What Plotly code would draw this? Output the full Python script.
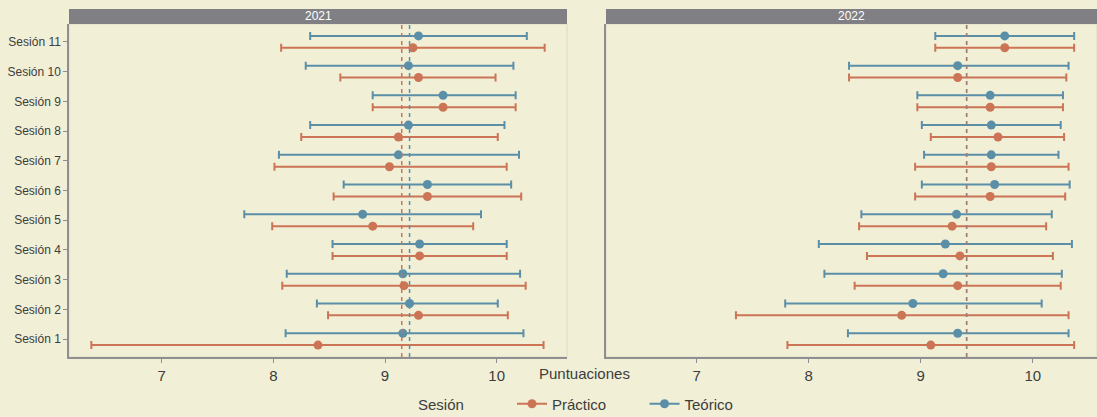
import plotly.graph_objects as go

# Sessions and per-year interval estimates (mean with lower/upper bounds)
sesiones = [f"Sesión {i}" for i in range(1, 12)]

# 2021
p21_mean = [8.40, 9.30, 9.17, 9.31, 8.89, 9.38, 9.04, 9.12, 9.52, 9.30, 9.25]
p21_low = [6.37, 8.49, 8.08, 8.53, 7.99, 8.54, 8.01, 8.25, 8.89, 8.60, 8.07]
p21_high = [10.42, 10.10, 10.26, 10.09, 9.79, 10.22, 10.09, 10.01, 10.17, 9.99, 10.43]
t21_mean = [9.16, 9.22, 9.16, 9.31, 8.80, 9.38, 9.12, 9.21, 9.52, 9.21, 9.30]
t21_low = [8.11, 8.39, 8.12, 8.53, 7.74, 8.63, 8.05, 8.33, 8.89, 8.29, 8.33]
t21_high = [10.24, 10.01, 10.21, 10.09, 9.86, 10.13, 10.20, 10.07, 10.17, 10.15, 10.27]

# 2022
p22_mean = [9.09, 8.83, 9.33, 9.35, 9.28, 9.62, 9.63, 9.69, 9.62, 9.33, 9.75]
p22_low = [7.81, 7.35, 8.41, 8.52, 8.45, 8.95, 8.95, 9.09, 8.97, 8.36, 9.13]
p22_high = [10.37, 10.32, 10.25, 10.18, 10.12, 10.29, 10.32, 10.28, 10.27, 10.30, 10.37]
t22_mean = [9.33, 8.93, 9.20, 9.22, 9.32, 9.66, 9.63, 9.63, 9.62, 9.33, 9.75]
t22_low = [8.35, 7.79, 8.14, 8.09, 8.47, 9.01, 9.03, 9.01, 8.97, 8.36, 9.13]
t22_high = [10.32, 10.08, 10.26, 10.35, 10.17, 10.33, 10.23, 10.25, 10.27, 10.32, 10.37]

# Overall means per year and session type (dashed reference lines)
media_p = {"2021": 9.15, "2022": 9.41}
media_t = {"2021": 9.22, "2022": 9.41}

tipos = ["Práctico", "Teórico"]
anios = ["2021", "2022"]

ROJO = "#cc7456"
AZUL = "#5b8fa8"
FONDO = "#f1efd6"
TEXTO = "#3d3d3d"
EJE = "#8f8f8f"
FUENTE = "Liberation Sans"
NBSP = "\u00a0"

W, H = 1097, 417
dom1 = [69 / W, 567 / W]
dom2 = [606 / W, 1.0]
ydom = [(H - 357) / H, (H - 24) / H]
strip_top = (H - 9) / H
y_leyenda = (H - 404) / H

pos = list(range(1, len(sesiones) + 1))
desplaz = {"Práctico": -0.2, "Teórico": 0.2}

series = {
    ("2021", "Práctico"): (p21_mean, p21_low, p21_high),
    ("2021", "Teórico"): (t21_mean, t21_low, t21_high),
    ("2022", "Práctico"): (p22_mean, p22_low, p22_high),
    ("2022", "Teórico"): (t22_mean, t22_low, t22_high),
}
colores = {"Práctico": ROJO, "Teórico": AZUL}
ejes = {"2021": ("x", "y"), "2022": ("x2", "y2")}

fig = go.Figure()

for anio in anios:
    xa, ya = ejes[anio]
    for tipo in tipos:
        media, bajo, alto = series[(anio, tipo)]
        fig.add_trace(go.Scatter(
            x=media,
            y=[p + desplaz[tipo] for p in pos],
            mode="markers",
            marker=dict(color=colores[tipo], size=9),
            error_x=dict(
                type="data", symmetric=False,
                array=[a - m for a, m in zip(alto, media)],
                arrayminus=[m - b for m, b in zip(media, bajo)],
                color=colores[tipo], thickness=2, width=4,
            ),
            xaxis=xa, yaxis=ya, showlegend=False, name=tipo,
        ))

# Legend entries: point on a short horizontal segment
etiquetas = {"Práctico": "Práctico" + NBSP * 8, "Teórico": "Teórico"}
for tipo in tipos:
    fig.add_trace(go.Scatter(
        x=[None], y=[None], mode="lines+markers", name=etiquetas[tipo],
        line=dict(color=colores[tipo], width=2),
        marker=dict(color=colores[tipo], size=9),
    ))

# Dashed mean lines (drawn over the intervals)
formas = []
for anio in anios:
    xa, ya = ejes[anio]
    solapadas = media_t[anio] == media_p[anio]
    for medias, col, op in ((media_t, AZUL, 1.0), (media_p, ROJO, 0.6 if solapadas else 1.0)):
        formas.append(dict(
            type="line", xref=xa, yref=f"{ya} domain",
            x0=medias[anio], x1=medias[anio], y0=0, y1=1,
            line=dict(color=col, width=1.5, dash="4px,4px"), opacity=op,
            layer="above",
        ))

# Facet strips and faint panel borders
for dom, anio in ((dom1, "2021"), (dom2, "2022")):
    formas.append(dict(
        type="rect", xref="paper", yref="paper",
        x0=dom[0], x1=dom[1], y0=ydom[1], y1=strip_top,
        fillcolor="#808084", line=dict(width=0), layer="above",
    ))
    formas.append(dict(
        type="rect", xref="paper", yref="paper",
        x0=dom[0], x1=dom[1], y0=ydom[0], y1=ydom[1],
        fillcolor="rgba(0,0,0,0)", line=dict(color="#dcdac4", width=1),
        layer="below",
    ))

anotaciones = []
for dom, anio in ((dom1, "2021"), (dom2, "2022")):
    anotaciones.append(dict(
        text=anio, xref="paper", yref="paper",
        x=(dom[0] + dom[1]) / 2, y=(ydom[1] + strip_top) / 2,
        xanchor="center", yanchor="middle", showarrow=False,
        font=dict(family=FUENTE, size=12, color="white"),
    ))
anotaciones.append(dict(
    text="Puntuaciones", xref="paper", yref="paper",
    x=584 / W, y=(H - 373) / H, xanchor="center", yanchor="middle",
    showarrow=False, font=dict(family=FUENTE, size=15, color=TEXTO),
))
# Legend title, placed on the same baseline as the entries
anotaciones.append(dict(
    text="Sesión", xref="paper", yref="paper",
    x=416 / W, y=y_leyenda, xanchor="left", yanchor="middle",
    showarrow=False, font=dict(family=FUENTE, size=15, color=TEXTO),
))

eje_x = dict(
    showgrid=False, zeroline=False, showline=True, linecolor=EJE, linewidth=1.5,
    ticks="outside", ticklen=4, tickcolor=EJE, tickwidth=1,
    tickvals=[7, 8, 9, 10], tickfont=dict(family=FUENTE, size=15, color=TEXTO),
)
eje_y = dict(
    showgrid=False, zeroline=False, showline=True, linecolor=EJE, linewidth=1.5,
    range=[0.4, 11.6], domain=ydom, tickvals=pos,
)

fig.update_layout(
    width=W, height=H,
    margin=dict(l=0, r=0, t=0, b=0, autoexpand=False),
    paper_bgcolor=FONDO, plot_bgcolor=FONDO,
    font=dict(family=FUENTE, color=TEXTO),
    xaxis=dict(eje_x, domain=dom1, range=[6.17, 10.63], anchor="y"),
    xaxis2=dict(eje_x, domain=dom2, range=[6.19, 6.19 + (W - 606) / 112.0], anchor="y2"),
    yaxis=dict(eje_y, anchor="x", ticktext=sesiones, ticks="outside", ticklen=4,
               tickcolor=EJE, tickfont=dict(family=FUENTE, size=12, color=TEXTO)),
    yaxis2=dict(eje_y, anchor="x2", showticklabels=False, ticks=""),
    shapes=formas,
    annotations=anotaciones,
    legend=dict(
        orientation="h", x=512 / W, y=y_leyenda, xanchor="left", yanchor="middle",
        font=dict(family=FUENTE, size=15, color=TEXTO), bgcolor="rgba(0,0,0,0)",
        itemwidth=30,
    ),
)

fig.write_html("out.html")
